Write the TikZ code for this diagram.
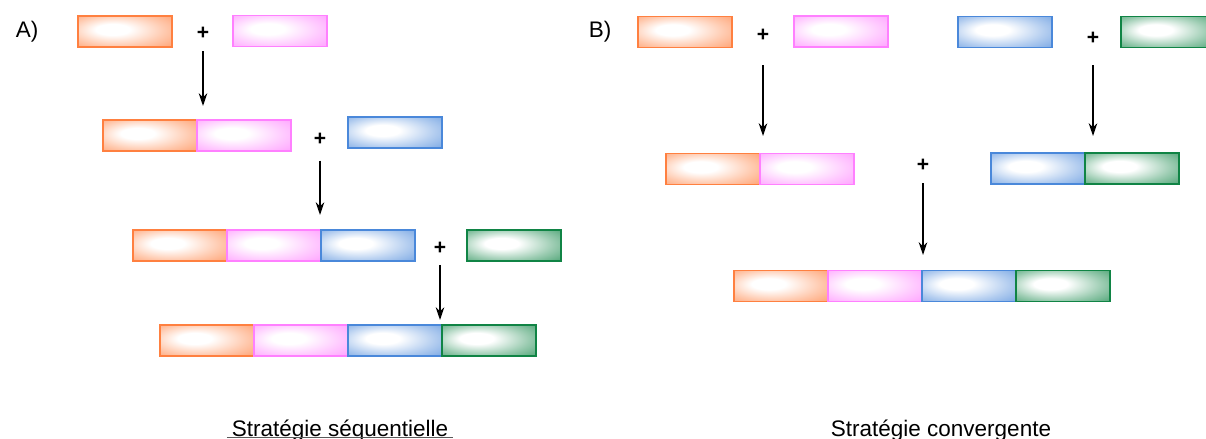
\documentclass[tikz,border=0pt]{standalone}
\usepackage{fontspec}
\setmainfont{Liberation Sans}
\usetikzlibrary{positioning}
\usetikzlibrary{arrows.meta}

\definecolor{orangeblk}{HTML}{FF8040}
\definecolor{pinkblk}{HTML}{FF80FF}
\definecolor{blueblk}{HTML}{4A88DA}
\definecolor{greenblk}{HTML}{108445}

% glow inside a fragment, edge colour taken from glowc
\colorlet{glowc}{white}
\pgfdeclareradialshading[glowc]{glow}{\pgfpoint{-8bp}{4bp}}{%
  color(0bp)=(white); color(9bp)=(white); color(25bp)=(glowc!42);
  color(40bp)=(glowc!78); color(50bp)=(glowc)}

\begin{document}
\begin{tikzpicture}[x=0.025cm, y=-0.025cm,
    block/.style={draw=#1, line width=1.2pt, minimum width=2.35cm,
      minimum height=0.775cm, inner sep=0pt, outer sep=0pt,
      /utils/exec={\colorlet{glowc}{#1}}, shading=glow},
    plus/.style={font=\fontsize{15}{18}\selectfont\bfseries, inner sep=0pt},
    arr/.style={-{Stealth[length=9pt,width=6pt]}, line width=1.1pt},
    lbl/.style={font=\fontsize{16}{19}\selectfont}]
  \useasboundingbox (0,0) rectangle (1206,439);

  % A) sequential
  \node[lbl, anchor=west] (la) at (11,32) {A)};
  \node[block=orangeblk] (a1) at (125,31.5) {};
  \node[plus] (pa1) at (203,33) {+};
  \node[block=pinkblk] (b1) at (280,31) {};
  \coordinate (ea1) at (203,106);
  \draw[arr] ([yshift=-0.3cm]pa1.south) -- (ea1);

  \node[block=orangeblk] (a2) at (150,135.5) {};
  \node[block=pinkblk, right=0pt of a2] (b2) {};
  \node[plus] (pa2) at (320,139) {+};
  \node[block=blueblk] (c2) at (395,132.5) {};
  \coordinate (ea2) at (320,215);
  \draw[arr] ([yshift=-0.38cm]pa2.south) -- (ea2);

  \node[block=orangeblk] (a3) at (180,245.5) {};
  \node[block=pinkblk, right=0pt of a3] (b3) {};
  \node[block=blueblk, right=0pt of b3] (c3) {};
  \node[plus] (pa3) at (440,248) {+};
  \node[block=greenblk] (d3) at (514,245.5) {};
  \coordinate (ea3) at (440,320);
  \draw[arr] ([yshift=-0.26cm]pa3.south) -- (ea3);

  \node[block=orangeblk] (a4) at (207,340.5) {};
  \node[block=pinkblk, right=0pt of a4] (b4) {};
  \node[block=blueblk, right=0pt of b4] (c4) {};
  \node[block=greenblk, right=0pt of c4] (d4) {};

  \node[lbl, anchor=base] (capa) at (340,436) {Stratégie séquentielle};
  \draw[gray!70!black, line width=0.6pt] ([yshift=-1.2pt]capa.base west)
    -- ([yshift=-1.2pt]capa.base east);

  % B) convergent
  \node[lbl, anchor=west] (lb) at (584,32) {B)};
  \node[block=orangeblk] (ba1) at (685,32) {};
  \node[plus] (pb1) at (763,35) {+};
  \node[block=pinkblk] (bb1) at (841,31.5) {};
  \node[block=blueblk] (bc1) at (1005,32) {};
  \node[plus] (pb2) at (1093,38) {+};
  \node[block=greenblk] (bd1) at (1168,32) {};
  \coordinate (eb1) at (763,136);
  \coordinate (eb2) at (1093,136);
  \draw[arr] ([yshift=-0.6cm]pb1.south) -- (eb1);
  \draw[arr] ([yshift=-0.52cm]pb2.south) -- (eb2);

  \node[block=orangeblk] (ba2) at (713,169) {};
  \node[block=pinkblk, right=0pt of ba2] (bb2) {};
  \node[plus] (pb3) at (923,165) {+};
  \node[block=blueblk] (bc2) at (1038,168.5) {};
  \node[block=greenblk, right=0pt of bc2] (bd2) {};
  \coordinate (eb3) at (923,255);
  \draw[arr] ([yshift=-0.3cm]pb3.south) -- (eb3);

  \node[block=orangeblk] (ba3) at (781,286) {};
  \node[block=pinkblk, right=0pt of ba3] (bb3) {};
  \node[block=blueblk, right=0pt of bb3] (bc3) {};
  \node[block=greenblk, right=0pt of bc3] (bd3) {};

  \node[lbl, anchor=base] (capb) at (941,436) {Stratégie convergente};
\end{tikzpicture}
\end{document}
